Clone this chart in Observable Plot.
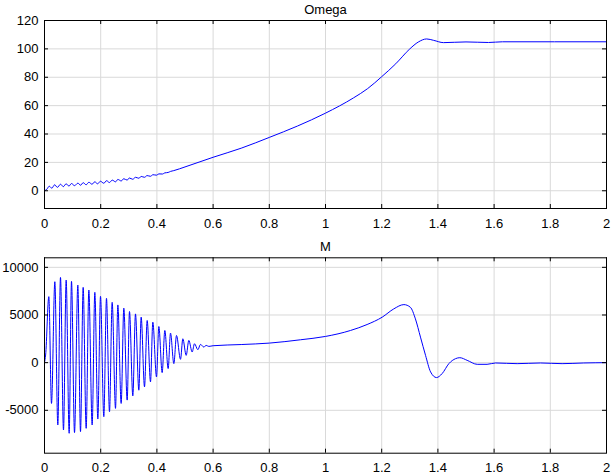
<!DOCTYPE html>
<html><head><meta charset="utf-8">
<script src="https://cdn.jsdelivr.net/npm/d3@7"></script>
<script src="https://cdn.jsdelivr.net/npm/@observablehq/plot@0.6"></script>
<style>body{margin:0;background:#fff}#chart svg{display:block}</style>
</head><body><div id="chart"></div>
<script>
const xTicks = [0, 0.2, 0.4, 0.6, 0.8, 1, 1.2, 1.4, 1.6, 1.8, 2];
const omegaYTicks = [0, 20, 40, 60, 80, 100, 120];
const mYTicks = [-5000, 0, 5000, 10000];
const titleOmega = "Omega";
const titleM = "M";

// Omega(t)
const omegaT = [0,0.008,0.017,0.026,0.036,0.046,0.057,0.067,0.077,0.087,0.096,0.107,0.119,0.128,0.138,0.148,0.158,0.169,0.179,0.189,0.199,0.211,0.221,0.231,0.241,0.253,0.261,0.273,0.282,0.294,0.302,0.314,0.324,0.336,0.344,0.356,0.365,0.377,0.386,0.399,0.407,0.420,0.428,0.440,0.448,0.46,0.5,0.55,0.6,0.7,0.8,0.9,1.0,1.1,1.15,1.2,1.25,1.3,1.33,1.36,1.385,1.42,1.5,1.58,1.63,2.0];
const omegaV = [0,1.0,3.2,1.8,4.2,2.4,4.6,2.9,4.9,3.3,5.1,3.6,5.4,3.9,5.7,4.2,6.0,4.6,6.3,4.9,6.7,5.3,7.1,5.8,7.5,6.3,8.0,6.9,8.5,7.5,9.0,8.1,9.5,8.8,10.1,9.5,10.7,10.2,11.3,11.0,11.9,11.8,12.6,12.9,13.6,14.2,16.8,20.2,23.6,30.0,37.6,45.6,54.7,65.5,72.0,80.4,89.5,100.0,104.8,107.0,106.0,104.4,104.9,104.5,105.0,105.0];

// M(t): start, oscillation peaks/troughs, tail
const mStartT = [0, 0.004];
const mStartV = [0, 800];
const mPeakT = [0.0154,0.0368,0.0569,0.0771,0.0961,0.1186,0.1376,0.1578,0.1791,0.1993,0.2206,0.2408,0.2610,0.2823,0.3025,0.3238,0.3440,0.3654,0.3855,0.4069,0.4282,0.4484,0.4698,0.4923,0.5136,0.5338,0.5552,0.5753];
const mPeakV = [6925,8490,8940,8665,8530,8140,7900,7620,7380,6960,6750,6330,6055,5710,5360,5115,4770,4420,4245,3790,3375,3100,2850,2505,2330,1985,1915,1810];
const mTroughT = [0.0249,0.0474,0.0676,0.0878,0.1068,0.1281,0.1483,0.1696,0.1898,0.2111,0.2313,0.2527,0.2728,0.2942,0.3143,0.3357,0.3559,0.3772,0.3986,0.4187,0.4401,0.4603,0.4840,0.5042,0.5255,0.5457,0.5670,0.5848];
const mTroughV = [-4280,-6540,-7065,-7410,-7340,-7240,-6890,-6540,-5915,-5670,-5150,-4800,-4280,-3930,-3480,-2890,-2540,-2020,-1500,-1045,-625,-105,350,765,1115,1360,1635,1705];
const mTailT = [0.6,0.7,0.8,0.911,1.0,1.089,1.148,1.2017,1.243,1.279,1.302,1.32,1.338,1.356,1.374,1.395,1.415,1.439,1.463,1.478,1.504,1.54,1.575,1.605,1.682,1.765,1.842,1.919,2.0];
const mTailV = [1775,1900,2050,2400,2750,3375,4000,4770,5640,6090,5810,4590,2680,765,-975,-1565,-1150,-105,420,520,245,-175,-175,-35,-105,-35,-105,-35,0];

const omegaData = omegaT.map((t, i) => ({t, v: omegaV[i]}));
const mData = [
  ...mStartT.map((t, i) => ({t, v: mStartV[i]})),
  ...mPeakT.map((t, i) => ({t, v: mPeakV[i]})),
  ...mTroughT.map((t, i) => ({t, v: mTroughV[i]})),
  ...mTailT.map((t, i) => ({t, v: mTailV[i]}))
].sort((a, b) => a.t - b.t);

const W = 613, H = 238, ML = 44, MR = 7;
const fmt = d => String(d);

function panel({title, data, yDomain, yTicks, marginTop, marginBottom}) {
  const pw = W - ML - MR;
  const ph = H - marginTop - marginBottom;
  const tl = 4;
  return Plot.plot({
    width: W, height: H,
    marginLeft: ML, marginRight: MR, marginTop, marginBottom,
    style: {fontFamily: "'Liberation Sans', Arial, sans-serif", fontSize: "13px", color: "black", background: "white"},
    x: {domain: [0, 2]},
    y: {domain: yDomain},
    marks: [
      Plot.gridX(xTicks, {stroke: "#d9d9d9", strokeOpacity: 1}),
      Plot.gridY(yTicks, {stroke: "#d9d9d9", strokeOpacity: 1}),
      Plot.axisX({ticks: xTicks, tickFormat: fmt, tickSize: 0, tickPadding: 10, label: null, fontSize: 13}),
      Plot.axisY({ticks: yTicks, tickFormat: fmt, tickSize: 0, tickPadding: 6, label: null, fontSize: 13}),
      Plot.line(data, {x: "t", y: "v", stroke: "#0000ff", strokeWidth: 1, curve: "monotone-x"}),
      Plot.tickX(xTicks, {x: d => d, stroke: "black", insetTop: ph - tl}),
      Plot.tickX(xTicks, {x: d => d, stroke: "black", insetBottom: ph - tl}),
      Plot.tickY(yTicks, {y: d => d, stroke: "black", insetRight: pw - tl}),
      Plot.tickY(yTicks, {y: d => d, stroke: "black", insetLeft: pw - tl}),
      Plot.frame({stroke: "black"}),
      Plot.text([title], {text: d => d, frameAnchor: "top", lineAnchor: "bottom", dy: -7, fontSize: 13, fill: "black"})
    ]
  });
}

const chart = document.getElementById("chart");
chart.append(panel({title: titleOmega, data: omegaData, yDomain: [-12.5, 120], yTicks: omegaYTicks, marginTop: 20, marginBottom: 30}));
chart.append(panel({title: titleM, data: mData, yDomain: [-9500, 11000], yTicks: mYTicks, marginTop: 19.3, marginBottom: 23.3}));
</script>
</body></html>
